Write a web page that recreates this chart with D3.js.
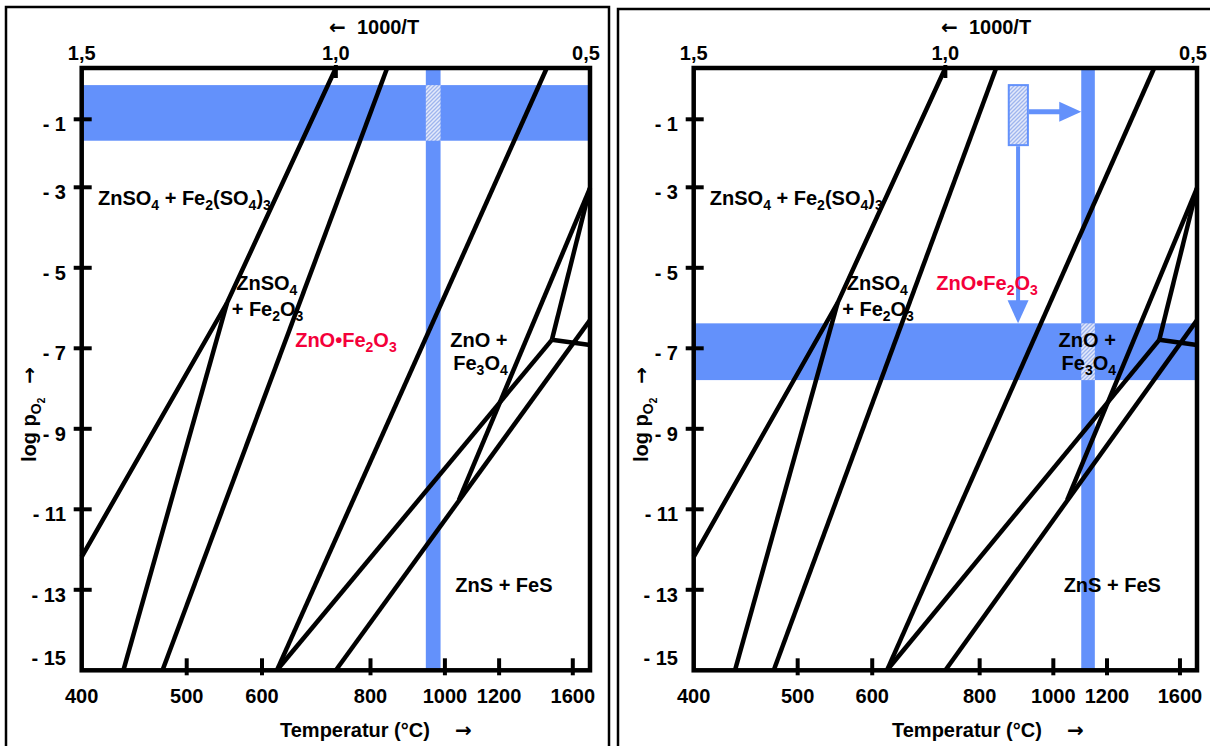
<!DOCTYPE html>
<html>
<head>
<meta charset="utf-8">
<script src="https://cdn.jsdelivr.net/npm/d3@7"></script>
<style>
  body { margin: 0; background: #fff; }
  text { font-family: "Liberation Sans", Arial, sans-serif; font-weight: bold; font-size: 20px; white-space: pre; }
  .arr { font-family: "DejaVu Sans", sans-serif; font-weight: bold; }
</style>
</head>
<body>
<div id="chart"></div>
<script>
// x = 1000/T (K), y = log pO2
const topTicks = [1.5, 1.0, 0.5];
const topTickLabels = ["1,5", "1,0", "0,5"];
const tempTicks = [400, 500, 600, 800, 1000, 1200, 1600];
const yTicks = [-1, -3, -5, -7, -9, -11, -13, -15];

// phase boundaries
const lineA = [[1.0, 0.5], [1.214, -5.87], [1.5, -12.18]];
const lineB = [[1.214, -5.87], [1.418, -15]];
const lineC = [[0.899, 0.5], [1.341, -15]];
const lineD = [[0.585, 0.5], [1.116, -15]];
const lineE = [[0.575, -6.79], [1.116, -15]];
const lineF = [[0.5, -3.02], [0.575, -6.79]];
const lineG = [[0.575, -6.79], [0.5, -6.92]];
const lineH = [[0.5, -6.30], [1.0, -15]];
const lineI = [[0.5, -3.02], [0.758, -10.77]];
const boundaries = [lineA, lineB, lineC, lineD, lineE, lineF, lineG, lineH, lineI];

// field labels [x, y, text], "_n" = subscript
const fieldLabels = [
  [1.468, -3.44, "ZnSO_4 + Fe_2(SO_4)_3"],
  [1.196, -5.55, "ZnSO_4"],
  [1.205, -6.20, "+ Fe_2O_3"],
  [0.775, -6.97, "ZnO +"],
  [0.769, -7.55, "Fe_3O_4"],
  [0.765, -13.05, "ZnS + FeS"]
];
const ferriteLabelLeft = [1.080, -6.97];
const ferriteLabelRight = [1.018, -5.55];

// shaded bands
const leftBandX = [0.823, 0.794];
const leftBandY = [0, -1.63];
const rightBandX = [0.730, 0.703];
const rightBandY = [-6.38, -7.79];

// small marker + arrows in right panel
const markerX = [0.874, 0.836];
const markerY = [0, -1.76];
const arrowRightY = -0.78;
const arrowDownX = 0.8555;

const blue = "#6391fb";
const red = "#f4003a";

const svg = d3.select("#chart").append("svg")
  .attr("width", 1210).attr("height", 746);

const pat = svg.append("defs").append("pattern")
  .attr("id", "hatch").attr("patternUnits", "userSpaceOnUse")
  .attr("width", 4).attr("height", 4);
pat.append("rect").attr("width", 4).attr("height", 4).attr("fill", "#e3e9fb");
pat.append("path").attr("d", "M-1,1 l2,-2 M0,4 l4,-4 M3,5 l2,-2")
  .attr("stroke", "#9fb5ee").attr("stroke-width", 1.3);

const y = d3.scaleLinear().domain([0.5, -1, -3, -15]).range([68, 119.3, 187.3, 670.3]);

function rich(t, s) {
  let shift = 0;
  s.split(/_(\d)/).forEach((p, i) => {
    if (!p) return;
    const sub = i % 2 === 1;
    const dy = (sub ? 5 : 0) - shift;
    shift = sub ? 5 : 0;
    const ts = t.append("tspan").attr("dy", dy).text(p);
    if (sub) ts.attr("font-size", 14);
  });
  return t;
}

function drawPanel(dx, xRight, frameX, frameW, frameY, opts) {
  const x = d3.scaleLinear().domain([1.5, 0.5]).range([81.7, xRight]);
  const toX = t => x(1000 / (t + 273.15));
  const g = svg.append("g").attr("transform", `translate(${dx},0)`);

  svg.append("rect")
    .attr("x", frameX).attr("y", frameY)
    .attr("width", frameW).attr("height", 800)
    .attr("fill", "none").attr("stroke", "#000").attr("stroke-width", 2.5);

  // bands
  g.append("rect")
    .attr("x", x(1.5)).attr("y", y(opts.bandY[0]))
    .attr("width", x(0.5) - x(1.5)).attr("height", y(opts.bandY[1]) - y(opts.bandY[0]))
    .attr("fill", blue);
  g.append("rect")
    .attr("x", x(opts.bandX[0])).attr("y", y(0.5))
    .attr("width", x(opts.bandX[1]) - x(opts.bandX[0])).attr("height", y(-15) - y(0.5))
    .attr("fill", blue);
  g.append("rect")
    .attr("x", x(opts.bandX[0])).attr("y", y(opts.bandY[0]))
    .attr("width", x(opts.bandX[1]) - x(opts.bandX[0])).attr("height", y(opts.bandY[1]) - y(opts.bandY[0]))
    .attr("fill", "url(#hatch)");

  if (opts.marker) {
    g.append("rect")
      .attr("x", x(markerX[0])).attr("y", y(markerY[0]))
      .attr("width", x(markerX[1]) - x(markerX[0])).attr("height", y(markerY[1]) - y(markerY[0]))
      .attr("fill", "url(#hatch)").attr("stroke", blue).attr("stroke-width", 2);
    const hx0 = x(markerX[1]), hx1 = x(opts.bandX[0]), hy = y(arrowRightY);
    g.append("line").attr("x1", hx0 + 1).attr("x2", hx1 - 20)
      .attr("y1", hy).attr("y2", hy).attr("stroke", blue).attr("stroke-width", 5);
    g.append("path").attr("fill", blue)
      .attr("d", `M${hx1},${hy} L${hx1 - 22},${hy - 10} L${hx1 - 22},${hy + 10} Z`);
    const vx = x(arrowDownX), vy0 = y(markerY[1]), vy1 = y(opts.bandY[0]);
    g.append("line").attr("x1", vx).attr("x2", vx)
      .attr("y1", vy0 + 1).attr("y2", vy1 - 20).attr("stroke", blue).attr("stroke-width", 4);
    g.append("path").attr("fill", blue)
      .attr("d", `M${vx},${vy1} L${vx - 10.5},${vy1 - 23} L${vx + 10.5},${vy1 - 23} Z`);
  }

  // boundaries
  const line = d3.line().x(d => x(d[0])).y(d => y(d[1]));
  g.selectAll("path.bnd").data(boundaries).join("path")
    .attr("class", "bnd")
    .attr("d", line)
    .attr("fill", "none").attr("stroke", "#000").attr("stroke-width", 4.5)
    .attr("stroke-linejoin", "miter");

  // plot frame
  g.append("rect")
    .attr("x", x(1.5)).attr("y", y(0.5))
    .attr("width", x(0.5) - x(1.5)).attr("height", y(-15) - y(0.5))
    .attr("fill", "none").attr("stroke", "#000").attr("stroke-width", 4.5);

  // y ticks
  g.selectAll("line.yt").data(yTicks.filter(v => v > -15)).join("line")
    .attr("x1", x(1.5) - 8).attr("x2", x(1.5) + 10)
    .attr("y1", d => y(d)).attr("y2", d => y(d))
    .attr("stroke", "#000").attr("stroke-width", 4);
  g.selectAll("text.yl").data(yTicks).join("text")
    .attr("x", 66).attr("text-anchor", "end")
    .attr("y", d => d === -15 ? y(d) - 5 : y(d) + 12)
    .text(d => "- " + Math.abs(d));

  // temperature ticks (bottom)
  g.selectAll("line.xt").data(tempTicks.slice(1)).join("line")
    .attr("x1", toX).attr("x2", toX)
    .attr("y1", y(-15) - 12).attr("y2", y(-15) + 5)
    .attr("stroke", "#000").attr("stroke-width", 4);
  g.selectAll("text.xl").data(tempTicks).join("text")
    .attr("x", d => d === 400 ? x(1.5) : toX(d)).attr("y", 703)
    .attr("text-anchor", "middle")
    .text(d => d);

  // 1000/T ticks (top)
  g.append("line")
    .attr("x1", x(1.0)).attr("x2", x(1.0))
    .attr("y1", y(0.5) - 3).attr("y2", y(0.5) + 10)
    .attr("stroke", "#000").attr("stroke-width", 4);
  g.selectAll("text.tl").data(topTicks).join("text")
    .attr("x", (d, i) => i === 2 ? x(d) - 4 : x(d)).attr("y", 60)
    .attr("text-anchor", "middle")
    .text((d, i) => topTickLabels[i]);

  // axis titles
  const tt = g.append("text").attr("x", 329).attr("y", 34);
  tt.append("tspan").attr("class", "arr").text("\u2190");
  tt.append("tspan").text("  1000/T");
  g.append("text").attr("x", 280).attr("y", 737).text("Temperatur (\u00b0C)");
  g.append("text").attr("class", "arr").attr("x", 455).attr("y", 737).text("\u2192");

  const yt = g.append("text").attr("transform", "translate(36,462) rotate(-90)");
  yt.append("tspan").text("log p");
  yt.append("tspan").attr("dy", 5).attr("font-size", 14).text("O");
  yt.append("tspan").attr("dy", 4).attr("font-size", 10).text("2");
  yt.append("tspan").attr("dy", -9).attr("dx", 14).attr("class", "arr").text("\u2192");

  // field labels
  fieldLabels.forEach(d => {
    rich(g.append("text").attr("x", x(d[0])).attr("y", y(d[1])), d[2]);
  });
  const fl = opts.ferrite;
  rich(g.append("text").attr("x", x(fl[0])).attr("y", y(fl[1])).attr("fill", red), "ZnO\u2022Fe_2O_3");
}

drawPanel(0, 590, 6, 603, 7, { bandX: leftBandX, bandY: leftBandY, ferrite: ferriteLabelLeft, marker: false });
drawPanel(612, 585, 618, 600, 9, { bandX: rightBandX, bandY: rightBandY, ferrite: ferriteLabelRight, marker: true });
</script>
</body>
</html>
